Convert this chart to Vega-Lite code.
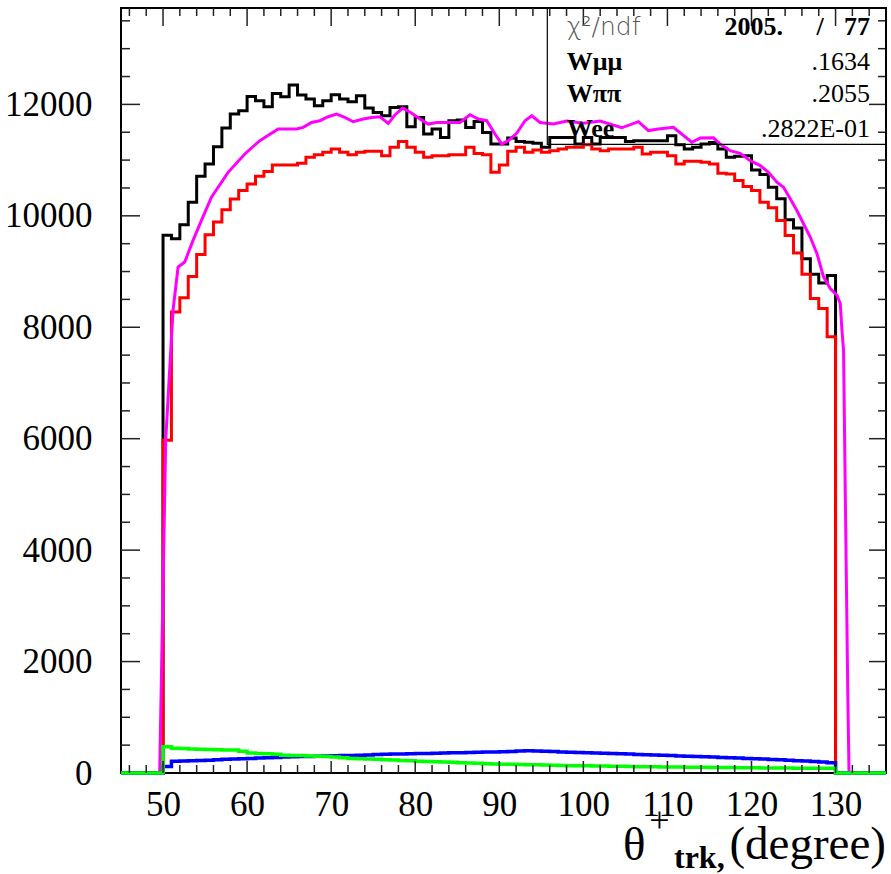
{
"$schema":"https://vega.github.io/schema/vega-lite/v6.json",
"autosize":{"type":"none"},
"padding":{"left":121,"top":8,"right":5,"bottom":101},
"width":765,"height":765,
"config":{"view":{"stroke":"#000","strokeWidth":2},"axis":{"grid":false,"domain":false,"title":null,"labelFlush":false,"labelOverlap":false,"ticks":false}},
"datasets":{
"xmaj":[{"v":50},{"v":60},{"v":70},{"v":80},{"v":90},{"v":100},{"v":110},{"v":120},{"v":130}],
"xmin":[{"v":46},{"v":48},{"v":52},{"v":54},{"v":56},{"v":58},{"v":62},{"v":64},{"v":66},{"v":68},{"v":72},{"v":74},{"v":76},{"v":78},{"v":82},{"v":84},{"v":86},{"v":88},{"v":92},{"v":94},{"v":96},{"v":98},{"v":102},{"v":104},{"v":106},{"v":108},{"v":112},{"v":114},{"v":116},{"v":118},{"v":122},{"v":124},{"v":126},{"v":128},{"v":132},{"v":134}],
"ymaj":[{"v":2000},{"v":4000},{"v":6000},{"v":8000},{"v":10000},{"v":12000}],
"ymin":[{"v":500},{"v":1000},{"v":1500},{"v":2500},{"v":3000},{"v":3500},{"v":4500},{"v":5000},{"v":5500},{"v":6500},{"v":7000},{"v":7500},{"v":8500},{"v":9000},{"v":9500},{"v":10500},{"v":11000},{"v":11500},{"v":12500},{"v":13000},{"v":13500}],
"blk":[{"x":45,"y":0},{"x":50,"y":9650},{"x":51,"y":9590},{"x":52,"y":9840},{"x":53,"y":10244},{"x":54,"y":10710},{"x":55,"y":10932},{"x":56,"y":11241},{"x":57,"y":11576},{"x":58,"y":11826},{"x":59,"y":11886},{"x":60,"y":12142},{"x":61,"y":12065},{"x":62,"y":11957},{"x":63,"y":12195},{"x":64,"y":12136},{"x":65,"y":12346},{"x":66,"y":12167},{"x":67,"y":12095},{"x":68,"y":11975},{"x":69,"y":12065},{"x":70,"y":12172},{"x":71,"y":12095},{"x":72,"y":12047},{"x":73,"y":12154},{"x":74,"y":11934},{"x":75,"y":11855},{"x":76,"y":11796},{"x":77,"y":11945},{"x":78,"y":11957},{"x":79,"y":11599},{"x":80,"y":11766},{"x":81,"y":11468},{"x":82,"y":11558},{"x":83,"y":11408},{"x":84,"y":11707},{"x":85,"y":11719},{"x":86,"y":11587},{"x":87,"y":11694},{"x":88,"y":11497},{"x":89,"y":11290},{"x":90,"y":11290},{"x":91,"y":11397},{"x":92,"y":11336},{"x":93,"y":11320},{"x":94,"y":11302},{"x":95,"y":11229},{"x":96,"y":11408},{"x":97,"y":11408},{"x":98,"y":11408},{"x":99,"y":11289},{"x":100,"y":11408},{"x":101,"y":11289},{"x":102,"y":11408},{"x":103,"y":11408},{"x":104,"y":11408},{"x":105,"y":11336},{"x":106,"y":11348},{"x":107,"y":11348},{"x":108,"y":11348},{"x":109,"y":11348},{"x":110,"y":11437},{"x":111,"y":11277},{"x":112,"y":11199},{"x":113,"y":11229},{"x":114,"y":11289},{"x":115,"y":11318},{"x":116,"y":11200},{"x":117,"y":11050},{"x":118,"y":11070},{"x":119,"y":11080},{"x":120,"y":10823},{"x":121,"y":10740},{"x":122,"y":10513},{"x":123,"y":10305},{"x":124,"y":9929},{"x":125,"y":9780},{"x":126,"y":9231},{"x":127,"y":8951},{"x":128,"y":8795},{"x":129,"y":8927},{"x":130,"y":0},{"x":136,"y":0}],
"red":[{"x":45,"y":0},{"x":50,"y":5970},{"x":51,"y":8275},{"x":52,"y":8530},{"x":53,"y":8910},{"x":54,"y":9305},{"x":55,"y":9661},{"x":56,"y":9890},{"x":57,"y":10108},{"x":58,"y":10300},{"x":59,"y":10454},{"x":60,"y":10570},{"x":61,"y":10710},{"x":62,"y":10797},{"x":63,"y":10914},{"x":64,"y":10914},{"x":65,"y":10914},{"x":66,"y":10943},{"x":67,"y":11050},{"x":68,"y":11098},{"x":69,"y":11140},{"x":70,"y":11200},{"x":71,"y":11140},{"x":72,"y":11098},{"x":73,"y":11140},{"x":74,"y":11157},{"x":75,"y":11157},{"x":76,"y":11080},{"x":77,"y":11229},{"x":78,"y":11336},{"x":79,"y":11229},{"x":80,"y":11140},{"x":81,"y":11050},{"x":82,"y":11080},{"x":83,"y":11080},{"x":84,"y":11098},{"x":85,"y":11098},{"x":86,"y":11229},{"x":87,"y":11120},{"x":88,"y":11098},{"x":89,"y":10781},{"x":90,"y":10913},{"x":91,"y":11157},{"x":92,"y":11229},{"x":93,"y":11140},{"x":94,"y":11182},{"x":95,"y":11140},{"x":96,"y":11170},{"x":97,"y":11199},{"x":98,"y":11229},{"x":99,"y":11229},{"x":100,"y":11277},{"x":101,"y":11199},{"x":102,"y":11169},{"x":103,"y":11199},{"x":104,"y":11199},{"x":105,"y":11199},{"x":106,"y":11229},{"x":107,"y":11110},{"x":108,"y":11140},{"x":109,"y":11140},{"x":110,"y":11080},{"x":111,"y":10931},{"x":112,"y":10979},{"x":113,"y":10979},{"x":114,"y":10961},{"x":115,"y":10931},{"x":116,"y":10764},{"x":117,"y":10752},{"x":118,"y":10633},{"x":119,"y":10525},{"x":120,"y":10454},{"x":121,"y":10245},{"x":122,"y":10144},{"x":123,"y":9917},{"x":124,"y":9649},{"x":125,"y":9332},{"x":126,"y":8951},{"x":127,"y":8515},{"x":128,"y":8336},{"x":129,"y":7829},{"x":130,"y":0},{"x":136,"y":0}],
"mag":[{"x":45,"y":0},{"x":49.6,"y":0},{"x":50.32,"y":5979},{"x":51.19,"y":8306},{"x":51.79,"y":9081},{"x":52.58,"y":9170},{"x":53.57,"y":9559},{"x":54.57,"y":9917},{"x":55.76,"y":10334},{"x":57.74,"y":10781},{"x":59.73,"y":11110},{"x":61.51,"y":11349},{"x":63.69,"y":11558},{"x":65.88,"y":11558},{"x":66.67,"y":11587},{"x":67.67,"y":11676},{"x":68.65,"y":11707},{"x":69.64,"y":11778},{"x":70.64,"y":11826},{"x":71.63,"y":11766},{"x":72.62,"y":11689},{"x":73.81,"y":11737},{"x":74.81,"y":11766},{"x":75.8,"y":11778},{"x":76.79,"y":11660},{"x":77.58,"y":11810},{"x":78.5,"y":11934},{"x":79.5,"y":11850},{"x":80.56,"y":11737},{"x":81.55,"y":11647},{"x":82.55,"y":11676},{"x":83.74,"y":11676},{"x":85.32,"y":11676},{"x":86.51,"y":11814},{"x":87.5,"y":11737},{"x":88.5,"y":11707},{"x":89.49,"y":11468},{"x":90.28,"y":11290},{"x":91.07,"y":11349},{"x":92.07,"y":11480},{"x":93.06,"y":11707},{"x":93.86,"y":11796},{"x":94.85,"y":11676},{"x":96.43,"y":11647},{"x":98.02,"y":11700},{"x":100,"y":11660},{"x":101.99,"y":11700},{"x":104.57,"y":11580},{"x":106.55,"y":11690},{"x":107.74,"y":11530},{"x":108.93,"y":11560},{"x":110.71,"y":11590},{"x":112.9,"y":11320},{"x":113.89,"y":11396},{"x":115.48,"y":11400},{"x":116.27,"y":11289},{"x":117.46,"y":11170},{"x":118.65,"y":11122},{"x":119.85,"y":10990},{"x":121.04,"y":10901},{"x":122.02,"y":10782},{"x":123.02,"y":10603},{"x":123.81,"y":10513},{"x":124.61,"y":10305},{"x":125.4,"y":10096},{"x":126.19,"y":9858},{"x":126.99,"y":9619},{"x":127.79,"y":9320},{"x":128.57,"y":8903},{"x":129.37,"y":8694},{"x":130.17,"y":8575},{"x":130.56,"y":8426},{"x":130.76,"y":7949},{"x":130.95,"y":7591},{"x":131.2,"y":4500},{"x":131.45,"y":1500},{"x":131.6,"y":0},{"x":136,"y":0}],
"blu":[{"x":45,"y":0},{"x":50,"y":115},{"x":51,"y":210},{"x":52,"y":215},{"x":53,"y":220},{"x":54,"y":225},{"x":55,"y":230},{"x":56,"y":238},{"x":57,"y":245},{"x":58,"y":250},{"x":59,"y":255},{"x":60,"y":262},{"x":61,"y":268},{"x":62,"y":272},{"x":63,"y":280},{"x":64,"y":285},{"x":65,"y":290},{"x":66,"y":295},{"x":67,"y":298},{"x":68,"y":300},{"x":69,"y":303},{"x":70,"y":308},{"x":71,"y":312},{"x":72,"y":316},{"x":73,"y":320},{"x":74,"y":325},{"x":75,"y":330},{"x":76,"y":335},{"x":77,"y":340},{"x":78,"y":342},{"x":79,"y":345},{"x":80,"y":348},{"x":81,"y":350},{"x":82,"y":355},{"x":83,"y":358},{"x":84,"y":362},{"x":85,"y":365},{"x":86,"y":368},{"x":87,"y":372},{"x":88,"y":375},{"x":89,"y":378},{"x":90,"y":380},{"x":91,"y":385},{"x":92,"y":395},{"x":93,"y":400},{"x":94,"y":395},{"x":95,"y":390},{"x":96,"y":385},{"x":97,"y":378},{"x":98,"y":372},{"x":99,"y":368},{"x":100,"y":362},{"x":101,"y":360},{"x":102,"y":356},{"x":103,"y":350},{"x":104,"y":345},{"x":105,"y":340},{"x":106,"y":332},{"x":107,"y":328},{"x":108,"y":322},{"x":109,"y":318},{"x":110,"y":312},{"x":111,"y":306},{"x":112,"y":302},{"x":113,"y":296},{"x":114,"y":290},{"x":115,"y":286},{"x":116,"y":280},{"x":117,"y":272},{"x":118,"y":268},{"x":119,"y":262},{"x":120,"y":256},{"x":121,"y":250},{"x":122,"y":244},{"x":123,"y":238},{"x":124,"y":230},{"x":125,"y":222},{"x":126,"y":214},{"x":127,"y":205},{"x":128,"y":196},{"x":129,"y":185},{"x":130,"y":0},{"x":136,"y":0}],
"grn":[{"x":45,"y":0},{"x":50,"y":470},{"x":51,"y":445},{"x":52,"y":440},{"x":53,"y":432},{"x":54,"y":428},{"x":55,"y":422},{"x":56,"y":418},{"x":57,"y":415},{"x":58,"y":412},{"x":59,"y":390},{"x":60,"y":360},{"x":61,"y":352},{"x":62,"y":345},{"x":63,"y":335},{"x":64,"y":320},{"x":65,"y":316},{"x":66,"y":312},{"x":67,"y":306},{"x":68,"y":300},{"x":69,"y":295},{"x":70,"y":285},{"x":71,"y":275},{"x":72,"y":262},{"x":73,"y":258},{"x":74,"y":252},{"x":75,"y":248},{"x":76,"y":240},{"x":77,"y":232},{"x":78,"y":225},{"x":79,"y":218},{"x":80,"y":210},{"x":81,"y":205},{"x":82,"y":200},{"x":83,"y":196},{"x":84,"y":192},{"x":85,"y":186},{"x":86,"y":180},{"x":87,"y":174},{"x":88,"y":168},{"x":89,"y":160},{"x":90,"y":158},{"x":91,"y":155},{"x":92,"y":152},{"x":93,"y":150},{"x":94,"y":148},{"x":95,"y":144},{"x":96,"y":140},{"x":97,"y":136},{"x":98,"y":132},{"x":99,"y":130},{"x":100,"y":128},{"x":101,"y":126},{"x":102,"y":124},{"x":103,"y":122},{"x":104,"y":120},{"x":105,"y":118},{"x":106,"y":114},{"x":107,"y":112},{"x":108,"y":110},{"x":109,"y":108},{"x":110,"y":107},{"x":111,"y":106},{"x":112,"y":104},{"x":113,"y":102},{"x":114,"y":101},{"x":115,"y":100},{"x":116,"y":99},{"x":117,"y":97},{"x":118,"y":96},{"x":119,"y":95},{"x":120,"y":92},{"x":121,"y":91},{"x":122,"y":90},{"x":123,"y":89},{"x":124,"y":88},{"x":125,"y":87},{"x":126,"y":86},{"x":127,"y":85},{"x":128,"y":84},{"x":129,"y":84},{"x":130,"y":0},{"x":136,"y":0}]
},
"layer":[
{"data":{"name":"blk"},"mark":{"type":"line","interpolate":"step-after","color":"#000000","strokeWidth":3,"strokeJoin":"miter","strokeCap":"butt"},
 "encoding":{"x":{"field":"x","type":"quantitative","scale":{"domain":[45,136],"nice":false,"zero":false},"axis":{"orient":"bottom","values":[50,60,70,80,90,100,110,120,130],"labelPadding":14,"labelFont":"Liberation Serif","labelFontSize":35,"labelColor":"#000"}},
  "y":{"field":"y","type":"quantitative","scale":{"domain":[0,13730],"nice":false,"zero":false},"axis":{"orient":"left","values":[0,2000,4000,6000,8000,10000,12000],"labelPadding":29,"labelFont":"Liberation Serif","labelFontSize":35,"labelColor":"#000","format":"d"}}}},
{"data":{"name":"red"},"mark":{"type":"line","interpolate":"step-after","color":"#ff0000","strokeWidth":3,"strokeJoin":"miter","strokeCap":"butt"},
 "encoding":{"x":{"field":"x","type":"quantitative"},"y":{"field":"y","type":"quantitative"}}},
{"data":{"name":"mag"},"mark":{"type":"line","color":"#ff00ff","strokeWidth":3},
 "encoding":{"x":{"field":"x","type":"quantitative"},"y":{"field":"y","type":"quantitative"}}},
{"data":{"name":"blu"},"mark":{"type":"line","interpolate":"step-after","color":"#0000ff","strokeWidth":3.5,"strokeJoin":"miter","strokeCap":"butt"},
 "encoding":{"x":{"field":"x","type":"quantitative"},"y":{"field":"y","type":"quantitative"}}},
{"data":{"name":"grn"},"mark":{"type":"line","interpolate":"step-after","color":"#00ff00","strokeWidth":3.5,"strokeJoin":"miter","strokeCap":"butt"},
 "encoding":{"x":{"field":"x","type":"quantitative"},"y":{"field":"y","type":"quantitative"}}},
{"data":{"name":"xmaj"},"mark":{"type":"rule","color":"#222","strokeWidth":1.5},
 "encoding":{"x":{"field":"v","type":"quantitative"},"y":{"datum":0,"type":"quantitative"},"y2":{"datum":215}}},
{"data":{"name":"xmin"},"mark":{"type":"rule","color":"#222","strokeWidth":1.5},
 "encoding":{"x":{"field":"v","type":"quantitative"},"y":{"datum":0,"type":"quantitative"},"y2":{"datum":144}}},
{"data":{"name":"xmaj"},"mark":{"type":"rule","color":"#222","strokeWidth":1.5},
 "encoding":{"x":{"field":"v","type":"quantitative"},"y":{"datum":13730,"type":"quantitative"},"y2":{"datum":13407}}},
{"data":{"name":"xmin"},"mark":{"type":"rule","color":"#222","strokeWidth":1.5},
 "encoding":{"x":{"field":"v","type":"quantitative"},"y":{"datum":13730,"type":"quantitative"},"y2":{"datum":13586}}},
{"data":{"name":"ymaj"},"mark":{"type":"rule","color":"#222","strokeWidth":1.5},
 "encoding":{"y":{"field":"v","type":"quantitative"},"x":{"datum":45,"type":"quantitative"},"x2":{"datum":47.26}}},
{"data":{"name":"ymin"},"mark":{"type":"rule","color":"#222","strokeWidth":1.5},
 "encoding":{"y":{"field":"v","type":"quantitative"},"x":{"datum":45,"type":"quantitative"},"x2":{"datum":46.07}}},
{"data":{"name":"ymaj"},"mark":{"type":"rule","color":"#222","strokeWidth":1.5},
 "encoding":{"y":{"field":"v","type":"quantitative"},"x":{"datum":136,"type":"quantitative"},"x2":{"datum":133.98}}},
{"data":{"name":"ymin"},"mark":{"type":"rule","color":"#222","strokeWidth":1.5},
 "encoding":{"y":{"field":"v","type":"quantitative"},"x":{"datum":136,"type":"quantitative"},"x2":{"datum":135.05}}},
{"data":{"values":[{}]},"mark":{"type":"rect","fill":null,"fillOpacity":0,"stroke":"#000","strokeWidth":1.2},
 "encoding":{"x":{"datum":95.71,"type":"quantitative"},"x2":{"datum":136},"y":{"datum":11282,"type":"quantitative"},"y2":{"datum":13730}}},
{"data":{"values":[{}]},"mark":{"type":"text","text":"χ²/ndf","font":"DejaVu Sans","fontSize":25,"fontWeight":300,"color":"#555","align":"left","baseline":"alphabetic"},
 "encoding":{"x":{"datum":98.02,"type":"quantitative"},"y":{"datum":13252,"type":"quantitative"}}},
{"data":{"values":[{}]},"mark":{"type":"text","text":"2005.","font":"Liberation Serif","fontSize":26,"fontWeight":"bold","color":"#000","align":"right","baseline":"alphabetic"},
 "encoding":{"x":{"datum":123.74,"type":"quantitative"},"y":{"datum":13252,"type":"quantitative"}}},
{"data":{"values":[{}]},"mark":{"type":"text","text":"/","font":"Liberation Serif","fontSize":26,"fontWeight":"bold","color":"#000","align":"center","baseline":"alphabetic"},
 "encoding":{"x":{"datum":128.15,"type":"quantitative"},"y":{"datum":13252,"type":"quantitative"}}},
{"data":{"values":[{}]},"mark":{"type":"text","text":"77","font":"Liberation Serif","fontSize":26,"fontWeight":"bold","color":"#000","align":"right","baseline":"alphabetic"},
 "encoding":{"x":{"datum":134.09,"type":"quantitative"},"y":{"datum":13252,"type":"quantitative"}}},
{"data":{"values":[{}]},"mark":{"type":"text","text":"Wμμ","font":"Liberation Serif","fontSize":26,"fontWeight":"bold","color":"#000","align":"left","baseline":"alphabetic"},
 "encoding":{"x":{"datum":98.02,"type":"quantitative"},"y":{"datum":12624,"type":"quantitative"}}},
{"data":{"values":[{}]},"mark":{"type":"text","text":".1634","font":"Liberation Serif","fontSize":26,"color":"#000","align":"right","baseline":"alphabetic"},
 "encoding":{"x":{"datum":134.09,"type":"quantitative"},"y":{"datum":12624,"type":"quantitative"}}},
{"data":{"values":[{}]},"mark":{"type":"text","text":"Wππ","font":"Liberation Serif","fontSize":26,"fontWeight":"bold","color":"#000","align":"left","baseline":"alphabetic"},
 "encoding":{"x":{"datum":98.02,"type":"quantitative"},"y":{"datum":12036,"type":"quantitative"}}},
{"data":{"values":[{}]},"mark":{"type":"text","text":".2055","font":"Liberation Serif","fontSize":26,"color":"#000","align":"right","baseline":"alphabetic"},
 "encoding":{"x":{"datum":134.09,"type":"quantitative"},"y":{"datum":12036,"type":"quantitative"}}},
{"data":{"values":[{}]},"mark":{"type":"text","text":"Wee","font":"Liberation Serif","fontSize":26,"fontWeight":"bold","color":"#000","align":"left","baseline":"alphabetic"},
 "encoding":{"x":{"datum":98.02,"type":"quantitative"},"y":{"datum":11422,"type":"quantitative"}}},
{"data":{"values":[{}]},"mark":{"type":"text","text":".2822E-01","font":"Liberation Serif","fontSize":26,"color":"#000","align":"right","baseline":"alphabetic"},
 "encoding":{"x":{"datum":134.09,"type":"quantitative"},"y":{"datum":11422,"type":"quantitative"}}},
{"data":{"values":[{}]},"mark":{"type":"text","text":"θ","font":"Liberation Serif","fontSize":47,"color":"#000","align":"left","baseline":"alphabetic"},
 "encoding":{"x":{"datum":104.71,"type":"quantitative"},"y":{"datum":-1561,"type":"quantitative"}}},
{"data":{"values":[{}]},"mark":{"type":"text","text":"+","font":"Liberation Serif","fontSize":36,"color":"#000","align":"left","baseline":"alphabetic"},
 "encoding":{"x":{"datum":107.85,"type":"quantitative"},"y":{"datum":-1059,"type":"quantitative"}}},
{"data":{"values":[{}]},"mark":{"type":"text","text":"trk,","font":"Liberation Serif","fontSize":32,"fontWeight":"bold","color":"#000","align":"left","baseline":"alphabetic"},
 "encoding":{"x":{"datum":110.78,"type":"quantitative"},"y":{"datum":-1705,"type":"quantitative"}}},
{"data":{"values":[{}]},"mark":{"type":"text","text":"(degree)","font":"Liberation Serif","fontSize":47,"color":"#000","align":"right","baseline":"alphabetic"},
 "encoding":{"x":{"datum":136,"type":"quantitative"},"y":{"datum":-1543,"type":"quantitative"}}}
]
}
